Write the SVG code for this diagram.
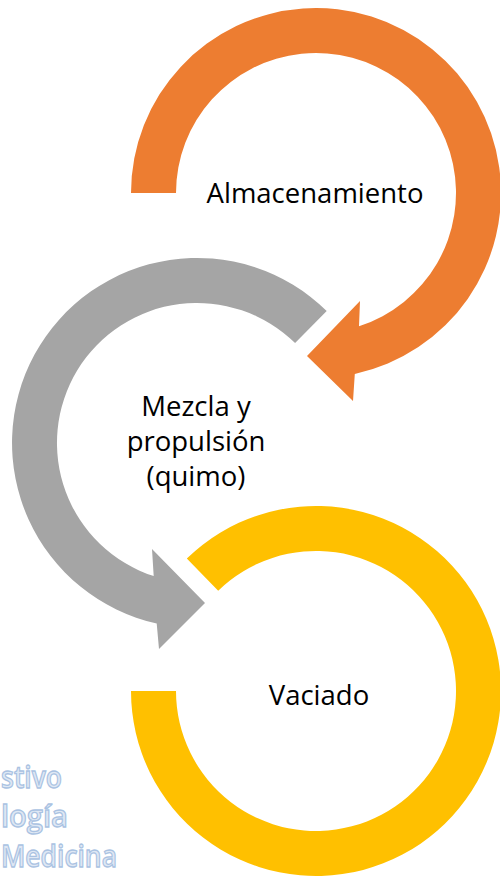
<svg xmlns="http://www.w3.org/2000/svg" width="500" height="877" viewBox="0 0 500 877">
  <defs>
    <style>
      .lbl { font-family: "Open Sans", "Liberation Sans", sans-serif; font-size: 27.5px; fill: #000000; text-anchor: middle; }
      .wm { font-family: "Open Sans", "Liberation Sans", sans-serif; font-size: 31px; font-weight: 600; fill: #dfe8f4; stroke: #a9c2e2; stroke-width: 1.3; text-anchor: start; }
      .orange { fill: #ED7D31; }
      .gray { fill: #A5A5A5; }
      .yellow { fill: #FFC000; }
    </style>
  </defs>
  <rect width="500" height="877" fill="#ffffff"/>

  <g id="watermark">
    <text class="wm" x="1" y="788" textLength="61" lengthAdjust="spacingAndGlyphs">stivo</text>
    <text class="wm" x="1" y="827" textLength="67" lengthAdjust="spacingAndGlyphs">logía</text>
    <text class="wm" x="1" y="867" textLength="116" lengthAdjust="spacingAndGlyphs" font-size="29">Medicina</text>
  </g>

  <g id="node-almacenamiento">
    <path class="orange" d="M131,193 A185,185 0 1 1 354.8,373.9 L353,401 L307,356 L360,301 L359,326.2 A140,140 0 1 0 176,193 Z"/>
    <text class="lbl" x="315" y="203">Almacenamiento</text>
  </g>

  <g id="node-mezcla">
    <path class="gray" d="M326.7,311 A185,185 0 1 0 156.7,623.5 L159,649 L205,603 L152,549 L153.7,576.1 A140,140 0 1 1 295.1,343.1 Z"/>
    <text class="lbl" x="196" y="416">Mezcla y</text>
    <text class="lbl" x="196" y="451">propulsión</text>
    <text class="lbl" x="196" y="486">(quimo)</text>
  </g>

  <g id="node-vaciado">
    <path class="yellow" d="M131,691 A185,185 0 1 0 186.8,558.6 L218.2,590.8 A140,140 0 1 1 176,691 Z"/>
    <text class="lbl" x="319" y="705">Vaciado</text>
  </g>

  <g id="connectors"></g>
</svg>
